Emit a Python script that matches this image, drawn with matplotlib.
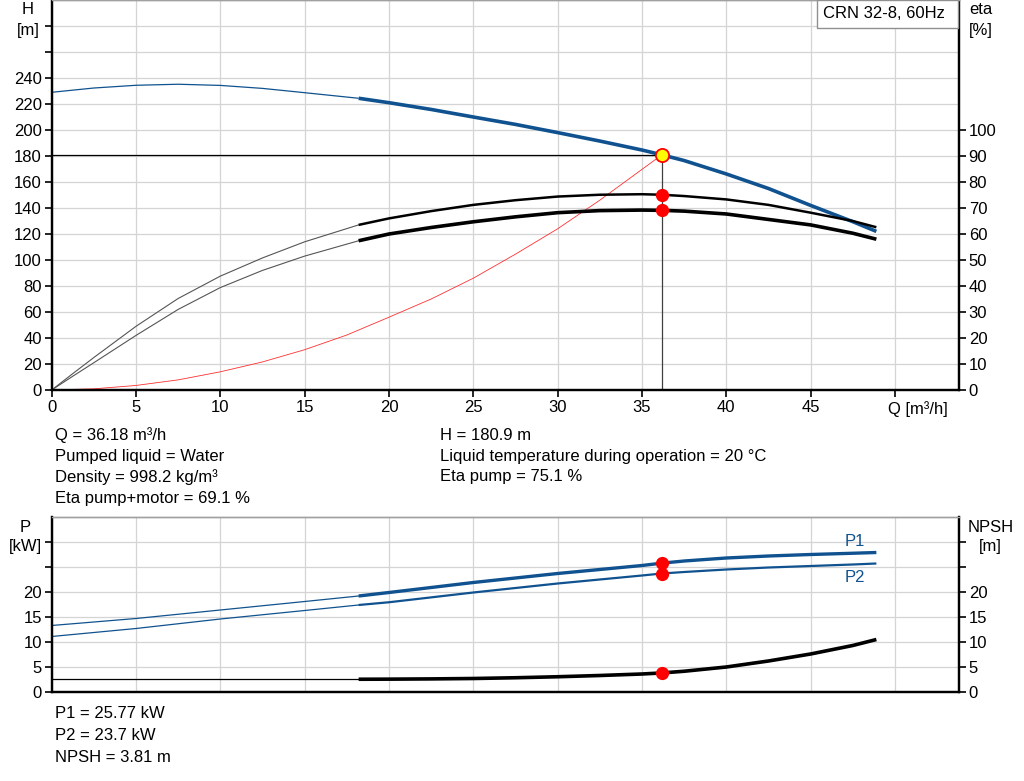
import numpy as np
import matplotlib
matplotlib.use("Agg")
import matplotlib.pyplot as plt
from matplotlib.patches import Rectangle

plt.rcParams["font.family"] = ["Liberation Sans", "DejaVu Sans"]
plt.rcParams["font.size"] = 12

BLUE = "#10528f"
GRID = "#d4d4d4"
FS = 12

# --- operating point ---
q_op = 36.18
h_op = 180.9
eta_pump_op = 75.1
eta_tot_op = 69.1
p1_op = 25.77
p2_op = 23.7
npsh_op = 3.81

# --- QH curve (thin = outside recommended range) ---
q_h_thin = [0, 2.5, 5, 7.5, 10, 12.5, 15, 18.2]
h_thin = [229, 232.3, 234.4, 235.2, 234.3, 232, 228.7, 224.4]
q_h_thick = [18.2, 20, 22.5, 25, 27.5, 30, 32.5, 35, 36.18, 37.5, 40, 42.5, 45, 47.5, 48.9]
h_thick = [224.4, 221, 215.8, 210, 204.3, 198, 191.5, 184.6, 180.9, 176.5, 166.2,
           155, 142, 129.5, 122]

# --- efficiency curves ---
q_eta_thin = [0, 1.25, 2.5, 5, 7.5, 10, 12.5, 15, 18.2]
eta_pump_thin = [0, 6.3, 12.5, 24.5, 35.2, 43.8, 50.8, 57, 63.5]
eta_tot_thin = [0, 5.3, 10.5, 21, 31, 39.4, 46, 51.5, 57.4]
q_eta_thick = [18.2, 20, 22.5, 25, 27.5, 30, 32.5, 35, 36.18, 37.5, 40, 42.5, 45, 47.5, 48.9]
eta_pump_thick = [63.5, 66.0, 68.8, 71.2, 73.0, 74.4, 75.1, 75.3, 75.1, 74.6, 73.3,
                  71.2, 68.2, 65.0, 62.6]
eta_tot_thick = [57.4, 60.0, 62.5, 64.7, 66.6, 68.2, 69.0, 69.2, 69.1, 68.8, 67.7,
                 65.6, 63.5, 60.3, 58.0]

# --- system curve ---
q_sys = [0, 2.5, 5, 7.5, 10, 12.5, 15, 17.5, 20, 22.5, 25, 27.5, 30, 32.5, 36.18]
h_sys = [0, 0.9, 3.5, 7.8, 14, 21.6, 31, 42.3, 56, 70, 86, 104.5, 124, 146, 180.9]

# --- power / NPSH ---
q_p_thin = [0, 5, 10, 15, 18.2]
p1_thin = [13.3, 14.7, 16.4, 18.1, 19.2]
p2_thin = [11.1, 12.7, 14.6, 16.3, 17.4]
q_p_thick = [18.2, 20, 25, 30, 35, 36.18, 37.5, 40, 42.5, 45, 47.5, 48.9]
p1_thick = [19.2, 19.9, 21.9, 23.7, 25.3, 25.77, 26.2, 26.8, 27.2, 27.5, 27.75, 27.9]
p2_thick = [17.4, 17.95, 19.9, 21.7, 23.3, 23.7, 24.0, 24.5, 24.9, 25.2, 25.5, 25.7]

q_npsh_thin = [0, 15, 18.2]
npsh_thin = [2.55, 2.55, 2.55]
q_npsh_thick = [18.2, 20, 22.5, 25, 27.5, 30, 32.5, 35, 36.18, 37.5, 40, 42.5, 45,
                47.5, 48.9]
npsh_thick = [2.55, 2.57, 2.62, 2.7, 2.85, 3.05, 3.3, 3.6, 3.81, 4.15, 5.0, 6.2, 7.6,
              9.3, 10.5]

h_ticks = list(range(0, 281, 20))
h_labels = [str(t) if t <= 240 else "" for t in h_ticks]
eta_ticks = list(range(0, 101, 10))
q_ticks = list(range(0, 51, 5))
q_labels = [str(t) for t in q_ticks[:-1]] + [""]
p_ticks = list(range(0, 31, 5))
p_labels = [str(t) if t <= 20 else "" for t in p_ticks]

fig = plt.figure(figsize=(10.24, 7.81), dpi=100)
W, Hpx = 1024, 781


def fx(px):
    return px / W


def fy(py):
    return 1 - py / Hpx


def style_axes(a, top_color="#a0a0a0"):
    for side in ("left", "right", "bottom"):
        a.spines[side].set_linewidth(1.6)
        a.spines[side].set_color("black")
    a.spines["top"].set_color(top_color)
    a.spines["top"].set_linewidth(1.0)


# ================= top chart: QH + eta =================
ax = fig.add_axes([fx(51.7), fy(390), fx(959) - fx(51.7), fy(0) - fy(390)])
ax.set_xlim(0, 53.8)
ax.set_ylim(0, 300)
ax.set_xticks(q_ticks)
ax.set_xticklabels(q_labels)
ax.set_yticks(h_ticks)
ax.set_yticklabels(h_labels)
ax.grid(True, color=GRID, lw=0.9)
ax.set_axisbelow(True)
ax.tick_params(length=5, width=1.2, pad=2, labelsize=FS)
style_axes(ax)
ax.text(49.6, -0.05, "Q [m³/h]", transform=ax.get_xaxis_transform(),
        ha="left", va="center", fontsize=FS)

ax.plot(q_h_thin, h_thin, color=BLUE, lw=0.9, solid_capstyle="butt")
ax.plot(q_h_thick, h_thick, color=BLUE, lw=2.6, solid_capstyle="butt")
ax.plot(q_sys, h_sys, color="#ff3030", lw=0.6)
ax.plot([0, q_op], [h_op, h_op], color="black", lw=0.9)
ax.plot([q_op, q_op], [0, h_op], color="#404040", lw=0.9)
ax.plot([q_op], [h_op], "o", ms=9.5, mfc="#ffff00", mec="#ff0000", mew=1.3, zorder=6)

ax2 = ax.twinx()
ax2.set_ylim(0, 150)
ax2.set_yticks(eta_ticks)
ax2.tick_params(length=5, width=1.2, pad=2, labelsize=FS)
style_axes(ax2)
ax2.plot(q_eta_thin, eta_pump_thin, color="#555555", lw=0.8)
ax2.plot(q_eta_thin, eta_tot_thin, color="#555555", lw=0.8)
ax2.plot(q_eta_thick, eta_pump_thick, color="black", lw=1.8, solid_capstyle="butt")
ax2.plot(q_eta_thick, eta_tot_thick, color="black", lw=2.6, solid_capstyle="butt")
ax2.plot([q_op, q_op], [eta_pump_op, eta_tot_op], "o", ms=8.5, color="#ff0000", zorder=6)

fig.text(fx(28), fy(10), "H", ha="center", va="center")
fig.text(fx(28), fy(31), "[m]", ha="center", va="center")
fig.text(fx(981), fy(10), "eta", ha="center", va="center")
fig.text(fx(981), fy(31), "[%]", ha="center", va="center")

fig.add_artist(Rectangle((fx(817), fy(28)), fx(958) - fx(817), fy(0) - fy(28),
                         transform=fig.transFigure, facecolor="white",
                         edgecolor="#909090", lw=1.0, zorder=10))
fig.text(fx(884), fy(14), "CRN 32-8, 60Hz", ha="center", va="center", zorder=11)

# operating data text
left_lines = ["Q = 36.18 m³/h", "Pumped liquid = Water",
              "Density = 998.2 kg/m³", "Eta pump+motor = 69.1 %"]
right_lines = ["H = 180.9 m", "Liquid temperature during operation = 20 °C",
               "Eta pump = 75.1 %"]
for i, s in enumerate(left_lines):
    fig.text(fx(55), fy(435 + 21 * i), s, ha="left", va="center")
for i, s in enumerate(right_lines):
    fig.text(fx(440), fy(435 + 21 * i), s, ha="left", va="center")

# ================= bottom chart: P + NPSH =================
axp = fig.add_axes([fx(51.7), fy(692), fx(959) - fx(51.7), fy(517) - fy(692)])
axp.set_xlim(0, 53.8)
axp.set_ylim(0, 35)
axp.set_xticks(q_ticks)
axp.set_xticklabels([])
axp.tick_params(axis="x", length=0)
axp.set_yticks(p_ticks)
axp.set_yticklabels(p_labels)
axp.tick_params(axis="y", length=5, width=1.2, pad=2, labelsize=FS)
axp.grid(True, color=GRID, lw=0.9)
axp.set_axisbelow(True)
style_axes(axp)

axp.plot(q_p_thin, p1_thin, color=BLUE, lw=0.9)
axp.plot(q_p_thin, p2_thin, color=BLUE, lw=0.9)
axp.plot(q_p_thick, p1_thick, color=BLUE, lw=2.4, solid_capstyle="butt")
axp.plot(q_p_thick, p2_thick, color=BLUE, lw=1.6, solid_capstyle="butt")
axp.plot([q_op, q_op], [p1_op, p2_op], "o", ms=8.5, color="#ff0000", zorder=6)
axp.text(47.0, 30.0, "P1", color=BLUE, ha="left", va="center", fontsize=FS)
axp.text(47.0, 23.0, "P2", color=BLUE, ha="left", va="center", fontsize=FS)

axn = axp.twinx()
axn.set_ylim(0, 35)
axn.set_yticks(p_ticks)
axn.set_yticklabels(p_labels)
axn.tick_params(length=5, width=1.2, pad=2, labelsize=FS)
style_axes(axn)
axn.plot(q_npsh_thin, npsh_thin, color="black", lw=0.9)
axn.plot(q_npsh_thick, npsh_thick, color="black", lw=2.6, solid_capstyle="butt")
axn.plot([q_op], [npsh_op], "o", ms=8.5, color="#ff0000", zorder=6)

fig.text(fx(25), fy(527), "P", ha="center", va="center")
fig.text(fx(25), fy(547), "[kW]", ha="center", va="center")
fig.text(fx(991), fy(527), "NPSH", ha="center", va="center")
fig.text(fx(990), fy(547), "[m]", ha="center", va="center")

bottom_lines = ["P1 = 25.77 kW", "P2 = 23.7 kW", "NPSH = 3.81 m"]
for i, s in enumerate(bottom_lines):
    fig.text(fx(55), fy(714 + 21.5 * i), s, ha="left", va="center")

fig.savefig("out.png", dpi=100)
